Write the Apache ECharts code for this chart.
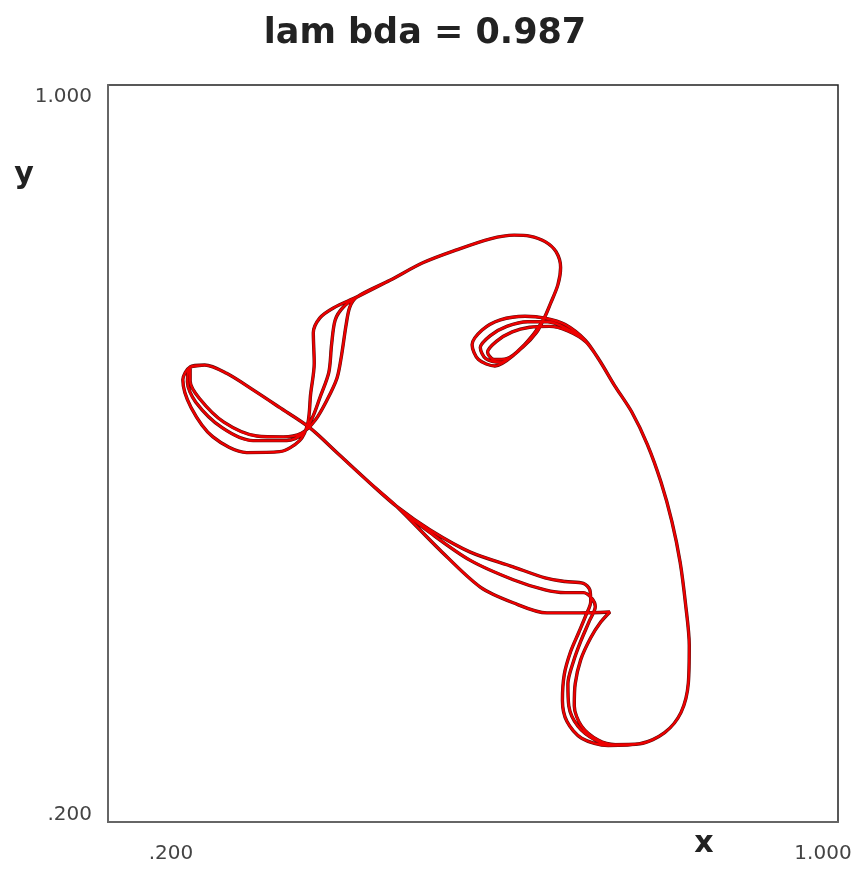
<!DOCTYPE html>
<html>
<head>
<meta charset="utf-8">
<script src="https://cdn.jsdelivr.net/npm/echarts@6/dist/echarts.min.js"></script>
<style>
  html, body { margin: 0; padding: 0; background: #fff; }
  #chart { width: 864px; height: 872px; }
</style>
</head>
<body>
<div id="chart"></div>
<script>
// Phase-space orbit (x, y) for lambda = 0.987, traced three times round.
const titleText = 'lam bda = 0.987';
const xName = 'x';
const yName = 'y';
const xTickValues = [0.2, 1.0];
const xTickLabels = ['.200', '1.000'];
const yTickValues = [0.2, 1.0];
const yTickLabels = ['.200', '1.000'];

// pieces that every turn shares
const leftTop = [[0.290,0.694],[0.306,0.696],[0.330,0.687],[0.359,0.669],[0.388,0.650],[0.421,0.628],[0.454,0.598],[0.487,0.568],[0.517,0.542]];
const rightSide = [[0.783,0.285],[0.810,0.297],[0.828,0.319],[0.836,0.351],[0.837,0.392],[0.833,0.436],[0.827,0.482],[0.818,0.526],[0.806,0.569],[0.791,0.610],[0.774,0.645],[0.755,0.674],[0.738,0.702]];
const topArc = [[0.693,0.783],[0.696,0.802],[0.691,0.819],[0.679,0.830],[0.662,0.836],[0.645,0.837],[0.619,0.833],[0.582,0.821],[0.545,0.807],[0.509,0.788],[0.473,0.770]];

// turn 1
const diagA = [[0.553,0.517],[0.597,0.493],[0.644,0.477],[0.679,0.465],[0.701,0.461],[0.721,0.459],[0.728,0.452],[0.729,0.439],[0.724,0.425],[0.716,0.406],[0.707,0.385],[0.700,0.360],[0.698,0.332],[0.703,0.309],[0.719,0.291],[0.748,0.283]];
const loopA = [[0.723,0.723],[0.701,0.740],[0.679,0.747],[0.657,0.749],[0.630,0.745],[0.610,0.734],[0.599,0.718],[0.606,0.702],[0.624,0.695],[0.646,0.708],[0.666,0.729],[0.678,0.747],[0.685,0.763]];
const vertA = [[0.447,0.758],[0.432,0.747],[0.425,0.731],[0.426,0.698],[0.422,0.664],[0.419,0.633],[0.410,0.614],[0.388,0.602],[0.352,0.601],[0.315,0.618],[0.291,0.650],[0.282,0.680]];

// turn 2
const diagB = [[0.553,0.514],[0.597,0.484],[0.644,0.463],[0.679,0.452],[0.701,0.449],[0.721,0.449],[0.730,0.443],[0.734,0.434],[0.727,0.417],[0.718,0.396],[0.710,0.374],[0.704,0.350],[0.705,0.326],[0.715,0.304],[0.734,0.289],[0.752,0.284]];
const loopB = [[0.723,0.722],[0.702,0.736],[0.682,0.743],[0.660,0.743],[0.637,0.738],[0.619,0.728],[0.608,0.715],[0.614,0.703],[0.631,0.699],[0.649,0.711],[0.667,0.730],[0.678,0.747],[0.685,0.763]];
const vertB = [[0.458,0.759],[0.449,0.745],[0.445,0.718],[0.442,0.688],[0.432,0.660],[0.424,0.639],[0.413,0.621],[0.396,0.614],[0.359,0.614],[0.325,0.628],[0.296,0.656],[0.287,0.678]];

// turn 3
const diagC = [[0.564,0.495],[0.608,0.455],[0.644,0.438],[0.681,0.427],[0.717,0.427],[0.750,0.428],[0.740,0.417],[0.729,0.400],[0.718,0.376],[0.712,0.350],[0.711,0.326],[0.719,0.304],[0.737,0.289],[0.756,0.284]];
const loopC = [[0.724,0.721],[0.704,0.733],[0.684,0.738],[0.662,0.737],[0.643,0.732],[0.626,0.722],[0.616,0.710],[0.623,0.702],[0.637,0.703],[0.655,0.716],[0.670,0.732],[0.678,0.747],[0.685,0.763]];
const vertC = [[0.465,0.759],[0.461,0.740],[0.456,0.707],[0.451,0.682],[0.440,0.658],[0.427,0.636],[0.412,0.622],[0.392,0.618],[0.363,0.619],[0.327,0.634],[0.300,0.660],[0.290,0.679]];

// join the turns into one continuous trajectory
const orbit = [];
[[diagA, loopA, vertA], [diagB, loopB, vertB], [diagC, loopC, vertC]].forEach(([d, l, v]) => {
  orbit.push(...leftTop, ...d, ...rightSide, ...l, ...topArc, ...v);
});
orbit.push(leftTop[0]);

const chart = echarts.init(document.getElementById('chart'), null, { renderer: 'canvas' });

const axisCommon = {
  type: 'value',
  min: 0.2,
  max: 1.0,
  axisLine: { show: true, onZero: false, lineStyle: { color: '#666', width: 2 } },
  axisTick: { show: false },
  axisLabel: { show: false },
  splitLine: { show: false }
};

chart.setOption({
  animation: false,
  backgroundColor: '#fff',
  grid: { left: 108, top: 85, right: 26, bottom: 50, show: true, borderColor: '#222', borderWidth: 1.5, backgroundColor: '#fff' },
  xAxis: Object.assign({}, axisCommon),
  yAxis: Object.assign({}, axisCommon),
  series: [
    {
      type: 'line', data: orbit, showSymbol: false, smooth: 0.3, clip: false,
      lineStyle: { color: '#5a0c0c', width: 3.4 }, z: 2
    },
    {
      type: 'line', data: orbit, showSymbol: false, smooth: 0.3, clip: false,
      lineStyle: { color: '#ee0000', width: 2.3 }, z: 3
    }
  ]
});

// tick labels, axis names and title
const px = v => chart.convertToPixel({ gridIndex: 0 }, v);
const graphics = [];
const xNudge = [63, -15];
xTickValues.forEach((v, i) => {
  const p = px([v, 0.2]);
  graphics.push({ type: 'text', x: p[0] + xNudge[i], y: p[1] + 32,
    style: { text: xTickLabels[i], font: '20px "DejaVu Sans"', fill: '#444', textAlign: 'center', textVerticalAlign: 'middle' } });
});
const yNudge = [-7, 12];
yTickValues.forEach((v, i) => {
  const p = px([0.2, v]);
  graphics.push({ type: 'text', x: p[0] - 16, y: p[1] + yNudge[i],
    style: { text: yTickLabels[i], font: '20px "DejaVu Sans"', fill: '#444', textAlign: 'right', textVerticalAlign: 'middle' } });
});
graphics.push({ type: 'text', x: 24, y: 175,
  style: { text: yName, font: 'bold 30px "DejaVu Sans"', fill: '#222', textAlign: 'center', textVerticalAlign: 'middle' } });
graphics.push({ type: 'text', x: 704, y: 844,
  style: { text: xName, font: 'bold 30px "DejaVu Sans"', fill: '#222', textAlign: 'center', textVerticalAlign: 'middle' } });
graphics.push({ type: 'text', x: 425, y: 34,
  style: { text: titleText, font: 'bold 35px "DejaVu Sans"', fill: '#222', textAlign: 'center', textVerticalAlign: 'middle' } });
chart.setOption({ graphic: graphics });
</script>
</body>
</html>
